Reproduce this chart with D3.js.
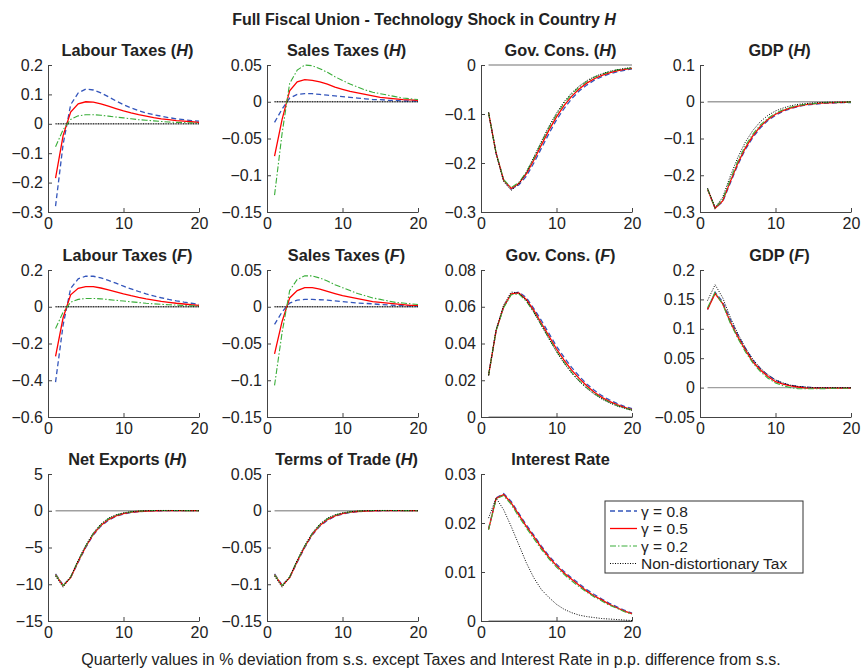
<!DOCTYPE html>
<html>
<head>
<meta charset="utf-8">
<script src="https://cdn.jsdelivr.net/npm/d3@7"></script>
<style>
  body { margin: 0; background: #fff; }
  svg { font-family: "Liberation Sans", Arial, sans-serif; }
</style>
</head>
<body>
<script>
// canvas
const width = 863;
const height = 672;

// quarters 1..20
const periods = d3.range(1, 21);

// legend labels, one per series
const seriesNames = ['γ = 0.8', 'γ = 0.5', 'γ = 0.2', 'Non-distortionary Tax'];

// panel titles: [text, country or null]
const panelTitles = [
  ['Labour Taxes', 'H'], ['Sales Taxes', 'H'], ['Gov. Cons.', 'H'], ['GDP', 'H'],
  ['Labour Taxes', 'F'], ['Sales Taxes', 'F'], ['Gov. Cons.', 'F'], ['GDP', 'F'],
  ['Net Exports', 'H'], ['Terms of Trade', 'H'], ['Interest Rate', null]
];

// y tick labels for each panel (first and last are the axis limits)
const yTicks = [
  [-0.3, -0.2, -0.1, 0, 0.1, 0.2],
  [-0.15, -0.1, -0.05, 0, 0.05],
  [-0.3, -0.2, -0.1, 0],
  [-0.3, -0.2, -0.1, 0, 0.1],
  [-0.6, -0.4, -0.2, 0, 0.2],
  [-0.15, -0.1, -0.05, 0, 0.05],
  [0, 0.02, 0.04, 0.06, 0.08],
  [-0.05, 0, 0.05, 0.1, 0.15, 0.2],
  [-15, -10, -5, 0, 5],
  [-0.15, -0.1, -0.05, 0, 0.05],
  [0, 0.01, 0.02, 0.03]
];
const xTicks = [0, 10, 20];

// series values, order: gamma 0.8, gamma 0.5, gamma 0.2, non-distortionary
const labourTaxesH = [
  [-0.28, -0.07, 0.065, 0.105, 0.118, 0.115, 0.105, 0.092, 0.078, 0.065, 0.054, 0.045, 0.037, 0.031, 0.026, 0.021, 0.017, 0.014, 0.011, 0.009],
  [-0.185, -0.04, 0.04, 0.068, 0.075, 0.074, 0.068, 0.06, 0.052, 0.044, 0.037, 0.031, 0.026, 0.021, 0.017, 0.014, 0.011, 0.009, 0.007, 0.005],
  [-0.078, -0.02, 0.015, 0.027, 0.031, 0.031, 0.029, 0.026, 0.023, 0.02, 0.017, 0.014, 0.012, 0.01, 0.008, 0.006, 0.005, 0.004, 0.003, 0.002],
  [0, 0, 0, 0, 0, 0, 0, 0, 0, 0, 0, 0, 0, 0, 0, 0, 0, 0, 0, 0]
];
const salesTaxesH = [
  [-0.028, -0.01, 0.005, 0.01, 0.011, 0.011, 0.01, 0.009, 0.008, 0.007, 0.006, 0.005, 0.004, 0.003, 0.003, 0.002, 0.002, 0.001, 0.001, 0.001],
  [-0.074, -0.024, 0.015, 0.027, 0.03, 0.029, 0.027, 0.024, 0.02, 0.017, 0.014, 0.012, 0.01, 0.008, 0.006, 0.005, 0.004, 0.003, 0.0025, 0.002],
  [-0.127, -0.043, 0.025, 0.043, 0.05, 0.049, 0.045, 0.04, 0.034, 0.029, 0.024, 0.02, 0.016, 0.013, 0.011, 0.009, 0.007, 0.005, 0.004, 0.003],
  [0, 0, 0, 0, 0, 0, 0, 0, 0, 0, 0, 0, 0, 0, 0, 0, 0, 0, 0, 0]
];
const govConsH = [
  [-0.097, -0.18, -0.235, -0.253, -0.245, -0.227, -0.2, -0.17, -0.14, -0.112, -0.089, -0.069, -0.053, -0.041, -0.031, -0.024, -0.018, -0.014, -0.011, -0.008],
  [-0.097, -0.18, -0.235, -0.252, -0.242, -0.222, -0.194, -0.163, -0.133, -0.106, -0.083, -0.064, -0.049, -0.037, -0.028, -0.021, -0.016, -0.012, -0.009, -0.007],
  [-0.097, -0.18, -0.234, -0.25, -0.24, -0.219, -0.19, -0.158, -0.128, -0.101, -0.078, -0.06, -0.045, -0.034, -0.025, -0.019, -0.014, -0.01, -0.008, -0.006],
  [-0.097, -0.181, -0.238, -0.256, -0.243, -0.219, -0.188, -0.156, -0.125, -0.098, -0.075, -0.057, -0.043, -0.032, -0.024, -0.018, -0.013, -0.01, -0.007, -0.005]
];
const gdpH = [
  [-0.238, -0.29, -0.272, -0.222, -0.172, -0.13, -0.097, -0.071, -0.051, -0.037, -0.026, -0.019, -0.013, -0.009, -0.007, -0.005, -0.004, -0.003, -0.002, -0.002],
  [-0.238, -0.29, -0.27, -0.218, -0.168, -0.126, -0.093, -0.067, -0.048, -0.034, -0.024, -0.017, -0.012, -0.008, -0.006, -0.004, -0.003, -0.002, -0.0015, -0.001],
  [-0.237, -0.289, -0.266, -0.212, -0.162, -0.12, -0.088, -0.063, -0.045, -0.031, -0.022, -0.015, -0.01, -0.007, -0.005, -0.003, -0.002, -0.002, -0.001, -0.001],
  [-0.235, -0.288, -0.26, -0.203, -0.152, -0.11, -0.078, -0.054, -0.037, -0.025, -0.017, -0.011, -0.007, -0.005, -0.003, -0.002, -0.001, -0.001, -0.001, 0]
];
const labourTaxesF = [
  [-0.41, -0.1, 0.1, 0.152, 0.166, 0.166, 0.157, 0.143, 0.128, 0.112, 0.097, 0.083, 0.07, 0.059, 0.049, 0.04, 0.032, 0.025, 0.019, 0.013],
  [-0.27, -0.06, 0.065, 0.1, 0.11, 0.109, 0.102, 0.092, 0.081, 0.07, 0.06, 0.051, 0.043, 0.036, 0.029, 0.024, 0.019, 0.015, 0.011, 0.008],
  [-0.118, -0.03, 0.025, 0.04, 0.045, 0.045, 0.043, 0.039, 0.035, 0.031, 0.027, 0.023, 0.019, 0.016, 0.013, 0.011, 0.009, 0.007, 0.005, 0.004],
  [0, 0, 0, 0, 0, 0, 0, 0, 0, 0, 0, 0, 0, 0, 0, 0, 0, 0, 0, 0]
];
const salesTaxesF = [
  [-0.024, -0.007, 0.005, 0.009, 0.01, 0.01, 0.0095, 0.009, 0.008, 0.007, 0.006, 0.005, 0.0045, 0.004, 0.003, 0.0025, 0.002, 0.0015, 0.001, 0.001],
  [-0.064, -0.02, 0.012, 0.022, 0.026, 0.026, 0.024, 0.021, 0.018, 0.015, 0.013, 0.011, 0.009, 0.007, 0.006, 0.005, 0.004, 0.003, 0.002, 0.002],
  [-0.107, -0.035, 0.022, 0.037, 0.042, 0.042, 0.039, 0.035, 0.03, 0.026, 0.022, 0.018, 0.015, 0.012, 0.01, 0.008, 0.006, 0.005, 0.004, 0.003],
  [0, 0, 0, 0, 0, 0, 0, 0, 0, 0, 0, 0, 0, 0, 0, 0, 0, 0, 0, 0]
];
const govConsF = [
  [0.0227, 0.047, 0.06, 0.067, 0.068, 0.065, 0.059, 0.0525, 0.0455, 0.0385, 0.0325, 0.027, 0.0222, 0.018, 0.0145, 0.0116, 0.0093, 0.0074, 0.0058, 0.0046],
  [0.0227, 0.047, 0.06, 0.067, 0.0675, 0.064, 0.058, 0.051, 0.044, 0.037, 0.031, 0.0255, 0.021, 0.017, 0.0135, 0.0107, 0.0085, 0.0067, 0.0052, 0.004],
  [0.0227, 0.047, 0.0595, 0.0665, 0.067, 0.063, 0.057, 0.05, 0.0428, 0.0358, 0.0297, 0.0243, 0.0198, 0.016, 0.0128, 0.0101, 0.008, 0.0063, 0.0049, 0.0038],
  [0.0227, 0.0475, 0.061, 0.068, 0.0675, 0.0635, 0.057, 0.0498, 0.0425, 0.0355, 0.0293, 0.0239, 0.0194, 0.0156, 0.0124, 0.0098, 0.0077, 0.006, 0.0047, 0.0036]
];
const gdpF = [
  [0.133, 0.162, 0.146, 0.116, 0.09, 0.067, 0.047, 0.032, 0.021, 0.013, 0.007, 0.004, 0.002, 0.001, 0, -0.0005, -0.0005, -0.0005, -0.0005, -0.0005],
  [0.133, 0.16, 0.143, 0.112, 0.0866, 0.064, 0.044, 0.03, 0.019, 0.01, 0.006, 0.003, 0.001, -0.001, -0.001, -0.001, -0.001, -0.001, -0.001, -0.001],
  [0.136, 0.162, 0.142, 0.11, 0.084, 0.061, 0.042, 0.027, 0.016, 0.008, 0.003, 0, -0.002, -0.002, -0.002, -0.002, -0.0015, -0.001, -0.001, -0.001],
  [0.148, 0.175, 0.153, 0.12, 0.092, 0.068, 0.048, 0.033, 0.022, 0.013, 0.008, 0.004, 0.002, 0.001, 0, 0, 0, 0, 0, 0]
];
const netExportsH = [
  [-8.6, -10.1, -9.1, -7.0, -5.0, -3.3, -2.1, -1.3, -0.75, -0.45, -0.25, -0.13, -0.06, -0.02, 0, 0.01, 0.02, 0.02, 0.01, 0.01],
  [-8.7, -10.2, -9.1, -6.9, -4.9, -3.2, -2.0, -1.2, -0.7, -0.4, -0.2, -0.1, -0.04, 0, 0.02, 0.03, 0.03, 0.02, 0.01, 0.01],
  [-8.7, -10.2, -9.0, -6.8, -4.8, -3.1, -1.9, -1.1, -0.6, -0.3, -0.15, -0.05, 0, 0.03, 0.04, 0.04, 0.03, 0.02, 0.01, 0.01],
  [-8.9, -10.4, -9.0, -6.7, -4.7, -3.0, -1.8, -1.0, -0.55, -0.28, -0.13, -0.04, 0.01, 0.03, 0.04, 0.04, 0.03, 0.02, 0.01, 0.01]
];
const termsOfTradeH = [
  [-0.086, -0.101, -0.091, -0.07, -0.05, -0.033, -0.021, -0.013, -0.0075, -0.0045, -0.0025, -0.0013, -0.0006, -0.0002, 0, 0.0001, 0.0002, 0.0002, 0.0001, 0.0001],
  [-0.087, -0.102, -0.091, -0.069, -0.049, -0.032, -0.02, -0.012, -0.007, -0.004, -0.002, -0.001, -0.0004, 0, 0.0002, 0.0003, 0.0003, 0.0002, 0.0001, 0.0001],
  [-0.087, -0.102, -0.09, -0.068, -0.048, -0.031, -0.019, -0.011, -0.006, -0.003, -0.0015, -0.0005, 0, 0.0003, 0.0004, 0.0004, 0.0003, 0.0002, 0.0001, 0.0001],
  [-0.089, -0.104, -0.09, -0.067, -0.047, -0.03, -0.018, -0.01, -0.0055, -0.0028, -0.0013, -0.0004, 0.0001, 0.0003, 0.0004, 0.0004, 0.0003, 0.0002, 0.0001, 0.0001]
];
const interestRate = [
  [0.0188, 0.0251, 0.026, 0.0244, 0.022, 0.0196, 0.0175, 0.0153, 0.0133, 0.0116, 0.0101, 0.0088, 0.0076, 0.0064, 0.0054, 0.0045, 0.0036, 0.0029, 0.0022, 0.0016],
  [0.0187, 0.025, 0.0258, 0.0241, 0.0217, 0.0193, 0.0172, 0.015, 0.013, 0.0113, 0.0098, 0.0085, 0.0073, 0.0061, 0.0051, 0.0043, 0.0034, 0.0027, 0.002, 0.0015],
  [0.0186, 0.0249, 0.0256, 0.0238, 0.0213, 0.019, 0.0168, 0.0146, 0.0127, 0.011, 0.0095, 0.0082, 0.007, 0.0059, 0.0049, 0.0041, 0.0032, 0.0026, 0.0019, 0.0014],
  [0.021, 0.0251, 0.0227, 0.0193, 0.0156, 0.0119, 0.0088, 0.0064, 0.0048, 0.0034, 0.0024, 0.0017, 0.0012, 0.0009, 0.0007, 0.0005, 0.0004, 0.0003, 0.0002, 0.0001]
];

const panelData = [
  labourTaxesH, salesTaxesH, govConsH, gdpH,
  labourTaxesF, salesTaxesF, govConsF, gdpF,
  netExportsH, termsOfTradeH, interestRate
];

// grid of panels
const colLeft = [48, 267, 481, 700];
const rowTop = [65, 270, 474];
const plotW = 151;
const plotH = 147;

// line styles
const lineStyle = [
  { color: '#3355bb', dash: '5,3', w: 1.3 },
  { color: '#ff0000', dash: null, w: 1.3 },
  { color: '#3aae3a', dash: '6,2,1.5,2', w: 1.1 },
  { color: '#000000', dash: '1,1.5', w: 1 }
];

const svg = d3.select('body').append('svg')
  .attr('width', width)
  .attr('height', height);

function fmt(d) {
  if (d === 0) return '0';
  return String(+d.toFixed(3)).replace('-', '\u2212');
}

const x = d3.scaleLinear().domain([0, 20]).range([0, plotW]);

panelData.forEach(function(series, p) {
  const col = p % 4;
  const row = Math.floor(p / 4);
  const ticks = yTicks[p];
  const y = d3.scaleLinear()
    .domain([ticks[0], ticks[ticks.length - 1]])
    .range([plotH, 0]);

  const g = svg.append('g')
    .attr('transform', 'translate(' + colLeft[col] + ',' + rowTop[row] + ')');

  // zero line
  g.append('line')
    .attr('x1', x(1)).attr('x2', x(20))
    .attr('y1', y(0)).attr('y2', y(0))
    .attr('stroke', '#a0a0a0')
    .attr('stroke-width', 1.3);

  // lines
  const line = d3.line()
    .x(function(d, i) { return x(periods[i]); })
    .y(function(d) { return y(d); });

  series.forEach(function(vals, s) {
    g.append('path')
      .datum(vals)
      .attr('d', line)
      .attr('fill', 'none')
      .attr('stroke', lineStyle[s].color)
      .attr('stroke-width', lineStyle[s].w)
      .attr('stroke-dasharray', lineStyle[s].dash);
  });

  // axes
  const yAxis = d3.axisLeft(y).tickValues(ticks).tickFormat(fmt)
    .tickSizeInner(-4).tickSizeOuter(0).tickPadding(5);
  const xAxis = d3.axisBottom(x).tickValues(xTicks).tickFormat(fmt)
    .tickSizeInner(-4).tickSizeOuter(0).tickPadding(6);

  const ya = g.append('g').call(yAxis);
  const xa = g.append('g').attr('transform', 'translate(0,' + plotH + ')').call(xAxis);
  [ya, xa].forEach(function(a) {
    a.selectAll('path, line').attr('stroke', '#444');
    a.selectAll('text')
      .attr('fill', '#222')
      .style('font-size', '16px')
      .style('font-family', '"Liberation Sans", Arial, sans-serif');
  });

  // title
  const t = g.append('text')
    .attr('x', plotW / 2 + 4)
    .attr('y', -9)
    .attr('text-anchor', 'middle')
    .style('font-size', '16.3px')
    .style('font-weight', 'bold')
    .attr('fill', '#222')
    .text(panelTitles[p][0]);
  if (panelTitles[p][1]) {
    t.append('tspan').text(' (');
    t.append('tspan').style('font-style', 'italic').text(panelTitles[p][1]);
    t.append('tspan').text(')');
  }
});

// main title
const mt = svg.append('text')
  .attr('x', 424)
  .attr('y', 25)
  .attr('text-anchor', 'middle')
  .style('font-size', '16px')
  .style('font-weight', 'bold')
  .attr('fill', '#222')
  .text('Full Fiscal Union - Technology Shock in Country ');
mt.append('tspan').style('font-style', 'italic').text('H');

// caption
svg.append('text')
  .attr('x', 431)
  .attr('y', 665)
  .attr('text-anchor', 'middle')
  .style('font-size', '16px')
  .attr('fill', '#222')
  .text('Quarterly values in % deviation from s.s. except Taxes and Interest Rate in p.p. difference from s.s.');

// legend
const lg = svg.append('g').attr('transform', 'translate(605,501)');
lg.append('rect')
  .attr('width', 198).attr('height', 72)
  .attr('fill', '#fff').attr('stroke', '#333');
seriesNames.forEach(function(name, s) {
  const yy = 10 + s * 17.5;
  lg.append('line')
    .attr('x1', 5).attr('x2', 32)
    .attr('y1', yy).attr('y2', yy)
    .attr('stroke', lineStyle[s].color)
    .attr('stroke-width', lineStyle[s].w)
    .attr('stroke-dasharray', lineStyle[s].dash);
  lg.append('text')
    .attr('x', 36).attr('y', yy + 5.5)
    .style('font-size', '15.5px')
    .attr('fill', '#222')
    .text(name);
});
</script>
</body>
</html>
